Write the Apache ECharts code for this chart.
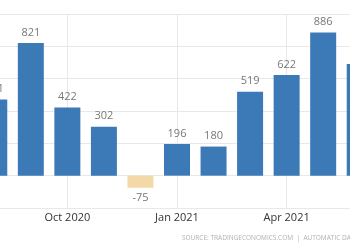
<!DOCTYPE html>
<html>
<head>
<meta charset="utf-8">
<script src="https://cdn.jsdelivr.net/npm/echarts@6/dist/echarts.min.js"></script>
<style>
html,body{margin:0;padding:0;background:#fff;overflow:hidden;width:350px;height:250px;position:relative;}
#c{position:absolute;left:-24px;top:0;width:402px;height:250px;}
</style>
</head>
<body>
<div id="c"></div>
<script>
const categories = ['Aug 2020','Sep 2020','Oct 2020','Nov 2020','Dec 2020','Jan 2021','Feb 2021','Mar 2021','Apr 2021','May 2021','Jun 2021'];
const values = [471, 821, 422, 302, -75, 196, 180, 519, 622, 886, 690];
const labelIndices = [2, 5, 8];
const sourceText = 'SOURCE: TRADINGECONOMICS.COM  |  AUTOMATIC DATA';

const chart = echarts.init(document.getElementById('c'));
chart.setOption({
  animation: false,
  textStyle: { fontFamily: 'Open Sans' },
  grid: { left: 0, right: 0, top: 14, bottom: 42 },
  xAxis: {
    type: 'category',
    data: categories,
    axisLine: { show: false },
    axisTick: { show: false },
    axisLabel: {
      interval: (i) => labelIndices.includes(i),
      color: '#333', fontSize: 11, margin: 4, fontFamily: 'Open Sans'
    },
    splitLine: {
      show: true, alignWithLabel: true,
      interval: (i) => labelIndices.includes(i),
      lineStyle: { color: '#e8e8e8', width: 1 }
    }
  },
  yAxis: {
    type: 'value', min: -200, max: 1000, interval: 200,
    axisLabel: { show: false }, axisLine: { show: false }, axisTick: { show: false },
    splitLine: { lineStyle: { color: '#e8e8e8', width: 1 } }
  },
  series: [{
    type: 'bar',
    barWidth: 26,
    data: values.map(v => ({
      value: v,
      itemStyle: { color: v < 0 ? '#f3d9a8' : '#3c7ab7' },
      label: { position: v < 0 ? 'bottom' : 'top' }
    })),
    label: { show: true, color: '#777', fontSize: 11, distance: 5, fontFamily: 'Open Sans' }
  }],
  graphic: [{
    type: 'text', left: 206, top: 235,
    style: { text: sourceText, fill: '#b0b0b0', fontSize: 6.5, fontFamily: 'Open Sans' }
  }]
});
</script>
</body>
</html>
